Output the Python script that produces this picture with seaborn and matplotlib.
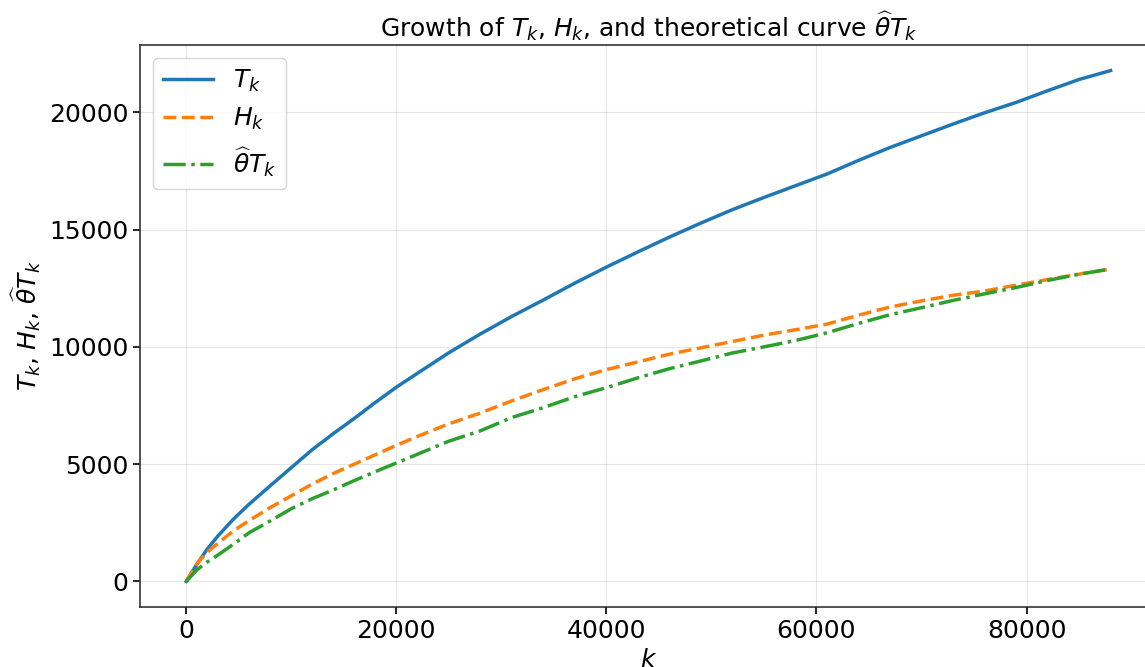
import matplotlib
matplotlib.use("Agg")
import matplotlib.pyplot as plt
import seaborn as sns
import pandas as pd

# values
k_vals = [0, 1000, 2000, 3000, 4500, 6000, 8000, 10000, 12000, 14000, 16000,
          18000, 20000, 22000, 25000, 28000, 31000, 34000, 37000, 40000, 43000,
          46000, 49000, 52000, 55000, 58000, 61000, 64000, 67000, 70000, 73000,
          76000, 79000, 82000, 85000, 88000]

T_vals = [0, 720, 1380, 1930, 2660, 3300, 4080, 4850, 5620, 6300, 6950,
          7630, 8280, 8870, 9750, 10550, 11300, 12000, 12720, 13400, 14050,
          14680, 15280, 15850, 16370, 16870, 17370, 17950, 18500, 19000, 19500,
          19980, 20420, 20920, 21400, 21780]

H_vals = [0, 750, 1250, 1620, 2160, 2600, 3150, 3650, 4150, 4600, 5000,
          5400, 5800, 6180, 6720, 7180, 7700, 8180, 8640, 9030, 9360,
          9690, 9960, 10230, 10500, 10730, 10970, 11350, 11700, 11960, 12200,
          12380, 12630, 12870, 13100, 13320]

thetaT_vals = [0, 490, 830, 1120, 1590, 2080, 2580, 3100, 3530, 3900, 4300,
               4680, 5050, 5420, 5980, 6420, 6990, 7410, 7880, 8260, 8680,
               9070, 9400, 9740, 10000, 10270, 10600, 11000, 11370, 11670, 11980,
               12260, 12530, 12830, 13100, 13320]

df = pd.DataFrame({'k': k_vals, 'T': T_vals, 'H': H_vals, 'thetaT': thetaT_vals})

plt.rcParams['font.family'] = ['DejaVu Sans']

fig = plt.figure(figsize=(11.45, 6.67), dpi=100)
ax = fig.add_axes([0.1223, 0.09, 0.888, 0.8425])

sns.lineplot(data=df, x='k', y='T', ax=ax, color='#1f77b4', linewidth=2.5,
             linestyle='-', label=r'$T_k$')
sns.lineplot(data=df, x='k', y='H', ax=ax, color='#ff7f0e', linewidth=2.5,
             linestyle='--', label=r'$H_k$')
sns.lineplot(data=df, x='k', y='thetaT', ax=ax, color='#2ca02c', linewidth=2.5,
             linestyle='-.', label=r'$\widehat{\theta}T_k$')

ax.set_xlim(-4400, 92400)
ax.set_ylim(-1089, 22869)
ax.set_xticks([0, 20000, 40000, 60000, 80000])
ax.set_yticks([0, 5000, 10000, 15000, 20000])
ax.tick_params(labelsize=18, width=1.2, length=5)
for s in ax.spines.values():
    s.set_linewidth(1.2)
    s.set_color('#333333')

ax.set_title(r'Growth of $T_k$, $H_k$, and theoretical curve $\widehat{\theta}T_k$', fontsize=18)
ax.set_xlabel(r'$k$', fontsize=18)
ax.set_ylabel(r'$T_k$, $H_k$, $\widehat{\theta}T_k$', fontsize=18)
ax.grid(True, alpha=0.3)
ax.legend(loc='upper left', fontsize=18)

fig.savefig('out.png', dpi=100)
